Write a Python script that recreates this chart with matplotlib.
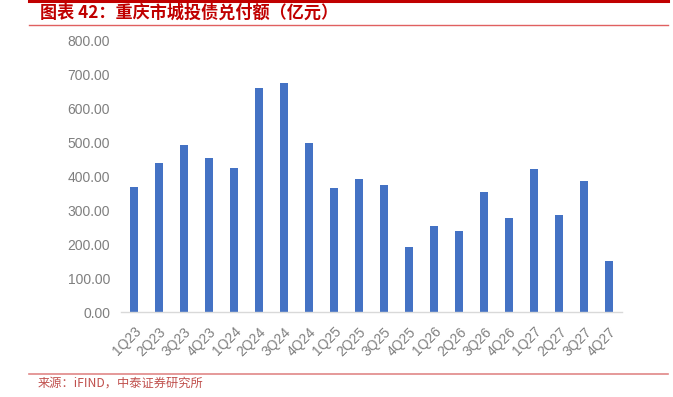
import matplotlib
matplotlib.use('Agg')
from matplotlib import pyplot as plt
from matplotlib.lines import Line2D
import numpy as np

plt.rcParams['font.family'] = ['Liberation Sans', 'Noto Sans CJK SC', 'DejaVu Sans']

quarters = ['1Q23', '2Q23', '3Q23', '4Q23', '1Q24', '2Q24', '3Q24', '4Q24',
            '1Q25', '2Q25', '3Q25', '4Q25', '1Q26', '2Q26', '3Q26', '4Q26',
            '1Q27', '2Q27', '3Q27', '4Q27']
amounts = [370, 440, 493, 454, 425, 662, 676, 499,
           366, 394, 375, 193, 253, 239, 353, 277,
           421, 285, 388, 150]
yticks = [0, 100, 200, 300, 400, 500, 600, 700, 800]

title = '图表 42：重庆市城投债兑付额（亿元）'
source = '来源：iFIND，中泰证券研究所'

fig = plt.figure(figsize=(6.73, 3.97), dpi=100)
ax = fig.add_axes([0.180, 0.214, 0.744, 0.683])

x = np.arange(len(quarters))
ax.bar(x, amounts, width=0.32, color='#4472C4', zorder=2)

ax.set_xlim(-0.5, len(quarters) - 0.5)
ax.set_ylim(0, 800)
ax.set_yticks(yticks)
ax.set_yticklabels(['%.2f' % v for v in yticks])
ax.set_xticks(x)
ax.set_xticklabels(quarters, rotation=45, ha='right', rotation_mode='anchor')
ax.tick_params(axis='both', length=0, colors='#7F7F7F', labelsize=10)
ax.tick_params(axis='y', pad=8)
ax.tick_params(axis='x', pad=9)

for side in ['top', 'right', 'left']:
    ax.spines[side].set_visible(False)
ax.spines['bottom'].set_color('#D9D9D9')
ax.spines['bottom'].set_linewidth(1)

# header / footer rules
fig.add_artist(Line2D([29/673, 668/673], [1 - 1/397, 1 - 1/397], color='#C00000', lw=2.2))
fig.add_artist(Line2D([29/673, 668/673], [1 - 24.5/397, 1 - 24.5/397], color='#E06060', lw=1))
fig.add_artist(Line2D([29/673, 668/673], [1 - 374/397, 1 - 374/397], color='#E08888', lw=1.2))

fig.text(40/673, 1 - 13/397, title, color='#C00000', fontsize=12.3, fontweight='bold',
         fontstyle='italic', va='center', ha='left',
         family=['Noto Sans CJK SC', 'DejaVu Sans'])
fig.text(38/673, 1 - 383/397, source, color='#C0504D', fontsize=8.8, va='center', ha='left',
         family=['Noto Sans CJK SC', 'DejaVu Sans'])

plt.savefig('out.png', dpi=100)
